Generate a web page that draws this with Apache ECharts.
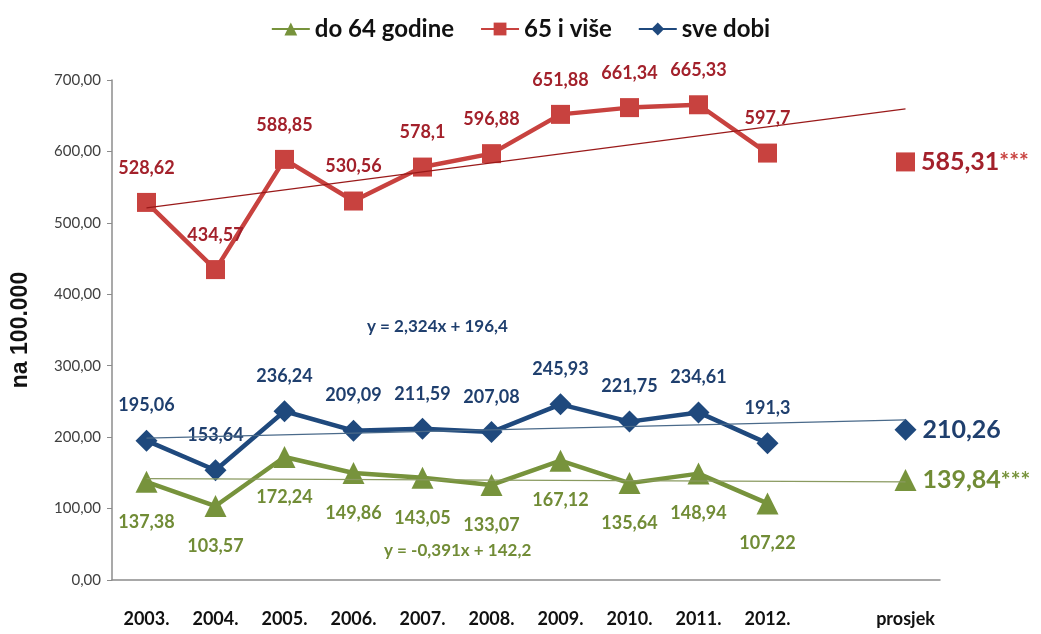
<!DOCTYPE html>
<html>
<head>
<meta charset="utf-8">
<script src="https://cdn.jsdelivr.net/npm/echarts@6/dist/echarts.min.js"></script>
<style>
  html, body { margin: 0; padding: 0; background: #fff; }
  #chart { width: 1041px; height: 634px; }
</style>
</head>
<body>
<div id="chart"></div>
<script>
// kategorije (10 godina, prazno mjesto, prosjek)
const categories = ['2003.', '2004.', '2005.', '2006.', '2007.', '2008.', '2009.', '2010.', '2011.', '2012.', '', 'prosjek'];

// stope na 100.000
const do64 = [137.38, 103.57, 172.24, 149.86, 143.05, 133.07, 167.12, 135.64, 148.94, 107.22];
const od65 = [528.62, 434.57, 588.85, 530.56, 578.1, 596.88, 651.88, 661.34, 665.33, 597.7];
const sveDobi = [195.06, 153.64, 236.24, 209.09, 211.59, 207.08, 245.93, 221.75, 234.61, 191.3];

// prosjek: do 64, 65+, sve dobi
const prosjek = [139.84, 585.31, 210.26];
const prosjekZvjezdice = ['***', '***', ''];

// krajnje tocke linija trenda (2003. i prosjek)
const trendDo64 = [141.8, 137.5];
const trendOd65 = [521.0, 659.6];
const trendSve = [198.7, 224.3];

const yTicks = [0, 100, 200, 300, 400, 500, 600, 700];

const RED = '#C8423F', RED_TXT = '#A3212B';
const BLUE = '#1F497D', BLUE_TXT = '#1F3F6E';
const GREEN = '#77933C', GREEN_TXT = '#718C36';
const FONT = 'Lato, "Open Sans", sans-serif';

const fmt = v => String(v).replace('.', ',');
const lastIdx = categories.length - 1;

function mainSeries(name, data, color, txt, symbol, size, pos, dist) {
  return {
    name: name,
    type: 'line',
    data: data,
    symbol: symbol,
    symbolSize: size,
    lineStyle: { color: color, width: 4.5 },
    itemStyle: { color: color },
    label: {
      show: true,
      position: pos,
      distance: dist,
      color: txt,
      fontFamily: FONT,
      fontWeight: 'bold',
      fontSize: 18,
      formatter: p => fmt(p.value)
    },
    z: 3
  };
}

function prosjekSeries(name, i, color, txt, symbol, size) {
  return {
    name: name,
    type: 'line',
    data: [[lastIdx, prosjek[i]]],
    symbol: symbol,
    symbolSize: size,
    itemStyle: { color: color },
    label: {
      show: true,
      position: 'right',
      distance: 6,
      formatter: () => '{v|' + fmt(prosjek[i]) + '}{s|' + prosjekZvjezdice[i] + '}',
      rich: {
        v: { color: txt, fontFamily: FONT, fontWeight: 'bold', fontSize: 25 },
        s: { color: color, fontFamily: FONT, fontWeight: 'bold', fontSize: 23 }
      }
    },
    z: 3
  };
}

function trendSeries(ends, color) {
  return {
    type: 'line',
    data: [[0, ends[0]], [lastIdx, ends[1]]],
    symbol: 'none',
    silent: true,
    lineStyle: { color: color, width: 1.3 },
    z: 4
  };
}

const chart = echarts.init(document.getElementById('chart'));
chart.setOption({
  animation: false,
  backgroundColor: '#fff',
  legend: {
    top: 12,
    left: 'center',
    itemWidth: 38,
    itemHeight: 16,
    itemGap: 26,
    data: ['do 64 godine', '65 i više', 'sve dobi'],
    textStyle: { color: '#111', fontFamily: FONT, fontWeight: 'bold', fontSize: 24 }
  },
  grid: { left: 112, right: 101, top: 80, bottom: 54 },
  xAxis: {
    type: 'category',
    data: categories,
    axisLine: { lineStyle: { color: '#8c8c8c', width: 1.5 } },
    axisTick: { show: false },
    axisLabel: { interval: 0, hideOverlap: false, color: '#111', fontFamily: FONT, fontWeight: 'bold', fontSize: 18, margin: 30 }
  },
  yAxis: {
    type: 'value',
    min: yTicks[0],
    max: yTicks[yTicks.length - 1],
    interval: 100,
    name: 'na 100.000',
    nameLocation: 'middle',
    nameRotate: 90,
    nameGap: 80,
    nameTextStyle: { color: '#111', fontFamily: '"Liberation Sans", Arial, sans-serif', fontWeight: 'bold', fontSize: 23 },
    splitLine: { show: false },
    axisLine: { show: true, lineStyle: { color: '#8c8c8c', width: 1.5 } },
    axisTick: { show: true, length: 5, lineStyle: { color: '#8c8c8c' } },
    axisLabel: { color: '#404040', fontFamily: FONT, fontSize: 15, margin: 11, formatter: v => v.toFixed(2).replace('.', ',') }
  },
  graphic: [
    { type: 'text', left: 367, top: 318, style: { text: 'y = 2,324x + 196,4', fill: BLUE_TXT, font: 'bold 17px ' + FONT } },
    { type: 'text', left: 384, top: 542, style: { text: 'y = -0,391x + 142,2', fill: GREEN_TXT, font: 'bold 17px ' + FONT } }
  ],
  series: [
    mainSeries('do 64 godine', do64, GREEN, GREEN_TXT, 'triangle', 22, 'bottom', 20),
    mainSeries('65 i više', od65, RED, RED_TXT, 'rect', 19, 'top', 16),
    mainSeries('sve dobi', sveDobi, BLUE, BLUE_TXT, 'diamond', 22, 'top', 15),
    prosjekSeries('do 64 godine', 0, GREEN, GREEN_TXT, 'triangle', 22),
    prosjekSeries('65 i više', 1, RED, RED_TXT, 'rect', 19),
    prosjekSeries('sve dobi', 2, BLUE, BLUE_TXT, 'diamond', 22),
    trendSeries(trendDo64, '#8a9a60'),
    trendSeries(trendOd65, '#9a1a1a'),
    trendSeries(trendSve, '#4a6a8a')
  ]
});
</script>
</body>
</html>
